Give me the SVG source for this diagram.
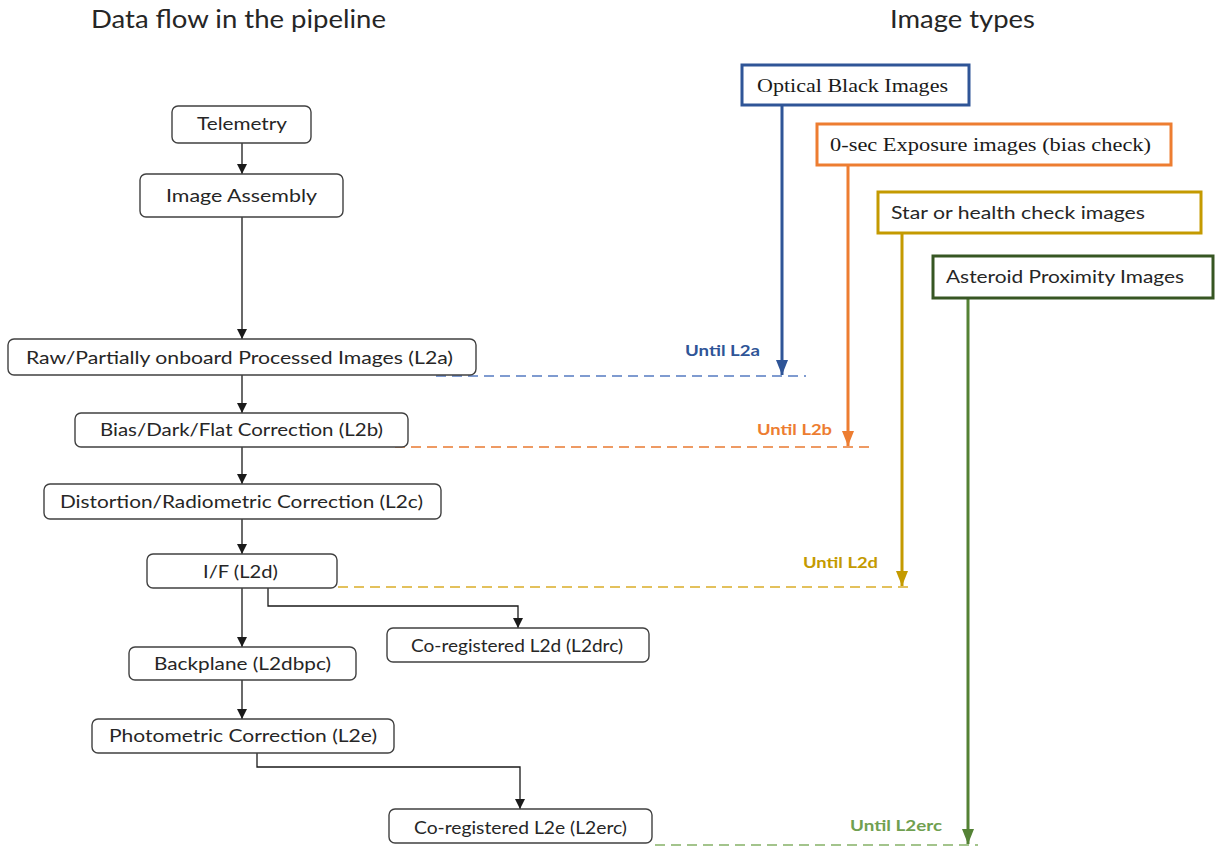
<svg xmlns="http://www.w3.org/2000/svg" width="1215" height="847" viewBox="0 0 1215 847">
<defs>
<style>
.box{fill:#fff;stroke:#404040;stroke-width:1.4}
.t{font-family:Lato,"Open Sans",sans-serif;font-size:18px;fill:#262626;text-anchor:start}
.title{font-family:Lato,"Open Sans",sans-serif;font-size:25px;fill:#262626}
.serif{font-family:"Liberation Serif",serif;font-size:19px;fill:#1a1a1a}
.until{font-family:Lato,"Open Sans",sans-serif;font-size:16px;font-weight:bold}
.conn{fill:none;stroke:#1a1a1a;stroke-width:1.3}
.dash{fill:none;stroke-width:2;stroke-dasharray:10 6}
</style>
<marker id="ab" markerUnits="userSpaceOnUse" markerWidth="10" markerHeight="10" refX="10" refY="5" orient="auto"><path d="M0,0 L10,5 L0,10 z" fill="#1a1a1a"/></marker>
<marker id="ablue" markerUnits="userSpaceOnUse" markerWidth="15" markerHeight="12" refX="15" refY="6" orient="auto"><path d="M0,0 L15,6 L0,12 z" fill="#2F5597"/></marker>
<marker id="aor" markerUnits="userSpaceOnUse" markerWidth="15" markerHeight="12" refX="15" refY="6" orient="auto"><path d="M0,0 L15,6 L0,12 z" fill="#ED7D31"/></marker>
<marker id="agold" markerUnits="userSpaceOnUse" markerWidth="15" markerHeight="12" refX="15" refY="6" orient="auto"><path d="M0,0 L15,6 L0,12 z" fill="#C49A00"/></marker>
<marker id="agreen" markerUnits="userSpaceOnUse" markerWidth="15" markerHeight="12" refX="15" refY="6" orient="auto"><path d="M0,0 L15,6 L0,12 z" fill="#548235"/></marker>
</defs>
<rect width="1215" height="847" fill="#fff"/>

<text class="title" x="91" y="28" textLength="295" lengthAdjust="spacingAndGlyphs">Data flow in the pipeline</text>
<text class="title" x="890" y="28" textLength="145" lengthAdjust="spacingAndGlyphs">Image types</text>

<g id="dashed-levels">
<line class="dash" x1="436" y1="376" x2="806" y2="376" stroke="#7F9BD0"/>
<line class="dash" x1="395" y1="447" x2="872" y2="447" stroke="#EE9A63"/>
<line class="dash" x1="322" y1="587" x2="912" y2="587" stroke="#E3C15C"/>
<line class="dash" x1="655" y1="845" x2="978" y2="845" stroke="#A3C48C"/>
</g>

<g id="connectors">
<line class="conn" x1="242" y1="143" x2="242" y2="174" marker-end="url(#ab)"/>
<line class="conn" x1="242" y1="217" x2="242" y2="339" marker-end="url(#ab)"/>
<line class="conn" x1="242" y1="375" x2="242" y2="413" marker-end="url(#ab)"/>
<line class="conn" x1="242" y1="447" x2="242" y2="484" marker-end="url(#ab)"/>
<line class="conn" x1="242" y1="519" x2="242" y2="554" marker-end="url(#ab)"/>
<line class="conn" x1="242" y1="588" x2="242" y2="647" marker-end="url(#ab)"/>
<line class="conn" x1="242" y1="680" x2="242" y2="719" marker-end="url(#ab)"/>
<polyline class="conn" points="268,588 268,606 518,606 518,628" marker-end="url(#ab)"/>
<polyline class="conn" points="257,753 257,767 520,767 520,809" marker-end="url(#ab)"/>
<line x1="782" y1="106" x2="782" y2="375" stroke="#2F5597" stroke-width="3" marker-end="url(#ablue)"/>
<line x1="848" y1="165" x2="848" y2="446" stroke="#ED7D31" stroke-width="3" marker-end="url(#aor)"/>
<line x1="902" y1="233" x2="902" y2="586" stroke="#C49A00" stroke-width="3" marker-end="url(#agold)"/>
<line x1="968" y1="298" x2="968" y2="844" stroke="#548235" stroke-width="3" marker-end="url(#agreen)"/>
</g>

<g id="telemetry"><rect class="box" x="172" y="106" width="139" height="37" rx="6"/><text class="t" x="197" y="130" textLength="90" lengthAdjust="spacingAndGlyphs">Telemetry</text></g>
<g id="image-assembly"><rect class="box" x="140" y="174" width="203" height="43" rx="6"/><text class="t" x="166" y="202" textLength="151" lengthAdjust="spacingAndGlyphs">Image Assembly</text></g>
<g id="l2a"><rect class="box" x="8" y="339" width="468" height="36" rx="6"/><text class="t" x="26" y="364" textLength="427" lengthAdjust="spacingAndGlyphs">Raw/Partially onboard Processed Images (L2a)</text></g>
<g id="l2b"><rect class="box" x="75" y="413" width="333" height="34" rx="6"/><text class="t" x="100" y="436" textLength="283" lengthAdjust="spacingAndGlyphs">Bias/Dark/Flat Correction (L2b)</text></g>
<g id="l2c"><rect class="box" x="44" y="484" width="397" height="35" rx="6"/><text class="t" x="60" y="508" textLength="363" lengthAdjust="spacingAndGlyphs">Distortion/Radiometric Correction (L2c)</text></g>
<g id="l2d"><rect class="box" x="147" y="554" width="190" height="34" rx="6"/><text class="t" x="203" y="578" textLength="75" lengthAdjust="spacingAndGlyphs">I/F (L2d)</text></g>
<g id="l2drc"><rect class="box" x="387" y="628" width="262" height="34" rx="6"/><text class="t" x="411" y="652" textLength="212" lengthAdjust="spacingAndGlyphs">Co-registered L2d (L2drc)</text></g>
<g id="l2dbpc"><rect class="box" x="129" y="647" width="227" height="33" rx="6"/><text class="t" x="154" y="670" textLength="177" lengthAdjust="spacingAndGlyphs">Backplane (L2dbpc)</text></g>
<g id="l2e"><rect class="box" x="92" y="719" width="302" height="34" rx="6"/><text class="t" x="109" y="742" textLength="268" lengthAdjust="spacingAndGlyphs">Photometric  Correction (L2e)</text></g>
<g id="l2erc"><rect class="box" x="389" y="809" width="263" height="34" rx="6"/><text class="t" x="414" y="834" textLength="213" lengthAdjust="spacingAndGlyphs">Co-registered L2e (L2erc)</text></g>

<g id="optical-black"><rect x="742" y="65" width="227" height="40" fill="#fff" stroke="#2F5597" stroke-width="3"/><text class="serif" x="757" y="92" textLength="191" lengthAdjust="spacingAndGlyphs">Optical  Black  Images</text></g>
<g id="zero-sec"><rect x="817" y="124" width="354" height="41" fill="#fff" stroke="#ED7D31" stroke-width="3"/><text class="serif" x="830" y="151" textLength="321" lengthAdjust="spacingAndGlyphs">0-sec Exposure  images  (bias  check)</text></g>
<g id="star-health"><rect x="878" y="192" width="323" height="41" fill="#fff" stroke="#C49A00" stroke-width="3"/><text class="t" x="891" y="219" textLength="254" lengthAdjust="spacingAndGlyphs">Star or health check images</text></g>
<g id="asteroid"><rect x="933" y="256" width="280" height="42" fill="#fff" stroke="#375623" stroke-width="3"/><text class="t" x="946" y="283" textLength="238" lengthAdjust="spacingAndGlyphs">Asteroid Proximity Images</text></g>

<g id="until-labels">
<text class="until" x="685" y="356" fill="#2F5597" textLength="75" lengthAdjust="spacingAndGlyphs">Until L2a</text>
<text class="until" x="757" y="435" fill="#ED7D31" textLength="75" lengthAdjust="spacingAndGlyphs">Until L2b</text>
<text class="until" x="803" y="568" fill="#C49A00" textLength="75" lengthAdjust="spacingAndGlyphs">Until L2d</text>
<text class="until" x="850" y="831" fill="#70A050" textLength="92" lengthAdjust="spacingAndGlyphs">Until L2erc</text>
</g>
</svg>
